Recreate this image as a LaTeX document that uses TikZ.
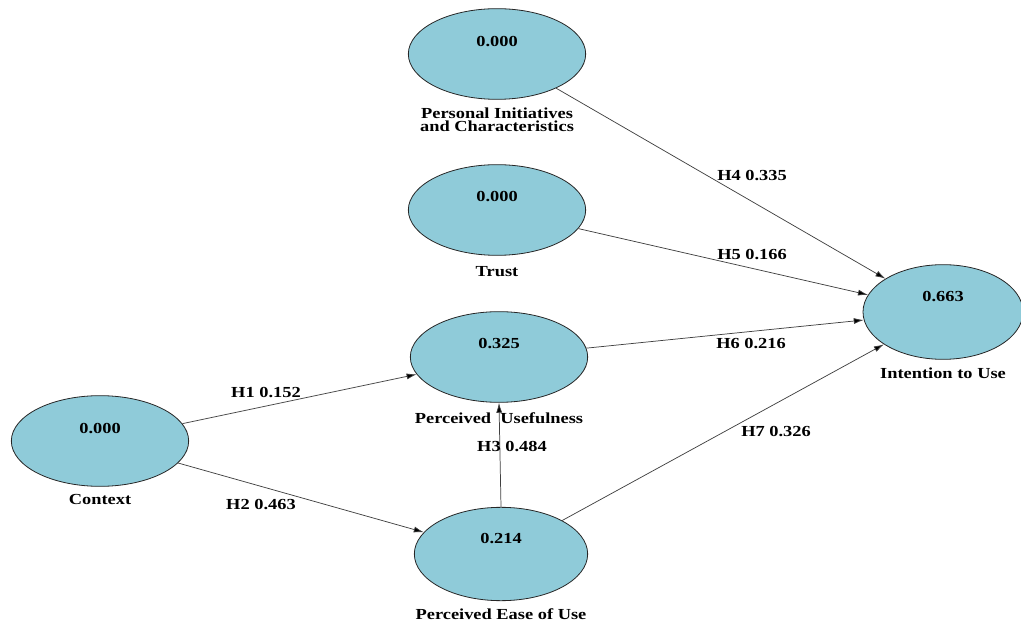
\documentclass[tikz,border=0pt]{standalone}
\usepackage{fontspec}
\setmainfont[FakeStretch=1.2]{Liberation Serif}
\usetikzlibrary{shapes.geometric,arrows.meta}

\definecolor{lvblue}{RGB}{143,203,217}

\tikzset{
  latent/.style={ellipse,draw=black!85,fill=lvblue,line width=0.6pt,inner sep=0pt,
    minimum width=133pt,minimum height=68pt},
  txt/.style={font=\fontsize{11.5}{10}\selectfont\bfseries,inner sep=0pt,align=center},
  link/.style={draw=black!75,line width=0.55pt,-{Latex[length=7.5pt,width=4.5pt,fill=black]}}
}

\begin{document}
\begin{tikzpicture}[x=0.75pt,y=-0.75pt]
\useasboundingbox (0,0) rectangle (1021,623);

% constructs
\node[latent] (pic) at (497,54) {};
\node[latent] (trust) at (497,210) {};
\node[latent] (pu) at (499,357) {};
\node[latent] (ctx) at (100,441) {};
\node[latent,minimum width=130pt,minimum height=70pt] (peou) at (501,554) {};
\node[latent,minimum width=120pt,minimum height=71pt] (itu) at (943,312) {};

% values
\node[txt] (picval) at (497,42) {0.000};
\node[txt] (trustval) at (497,197) {0.000};
\node[txt] (puval) at (499,344) {0.325};
\node[txt] (ctxval) at (100,429) {0.000};
\node[txt] (peouval) at (501,539) {0.214};
\node[txt] (ituval) at (943,297) {0.663};

% names
\node[txt] (piclbl) at (497,120) {Personal Initiatives\\and Characteristics};
\node[txt] (trustlbl) at (497,272) {Trust};
\node[txt] (pulbl) at (499,418) {Perceived\ \ Usefulness};
\node[txt] (ctxlbl) at (100,499) {Context};
\node[txt] (peoulbl) at (501,614) {Perceived Ease of Use};
\node[txt] (itulbl) at (943,373) {Intention to Use};

% paths
\draw[link] (pic) -- (itu);
\draw[link] (trust) -- (itu);
\draw[link] (pu) -- (itu);
\draw[link] (peou) -- (itu);
\draw[link] (ctx) -- (pu);
\draw[link] (ctx) -- (peou);
\draw[link] (peou.north) -- (pu.south);

% coefficients
\node[txt] (h4) at (752,176) {H4 0.335};
\node[txt] (h5) at (752,255) {H5 0.166};
\node[txt] (h6) at (751,344) {H6 0.216};
\node[txt] (h7) at (776,432) {H7 0.326};
\node[txt] (h1) at (266,393) {H1 0.152};
\node[txt] (h2) at (261,505) {H2 0.463};
\node[txt] (h3) at (512,447) {H3 0.484};

\end{tikzpicture}
\end{document}
